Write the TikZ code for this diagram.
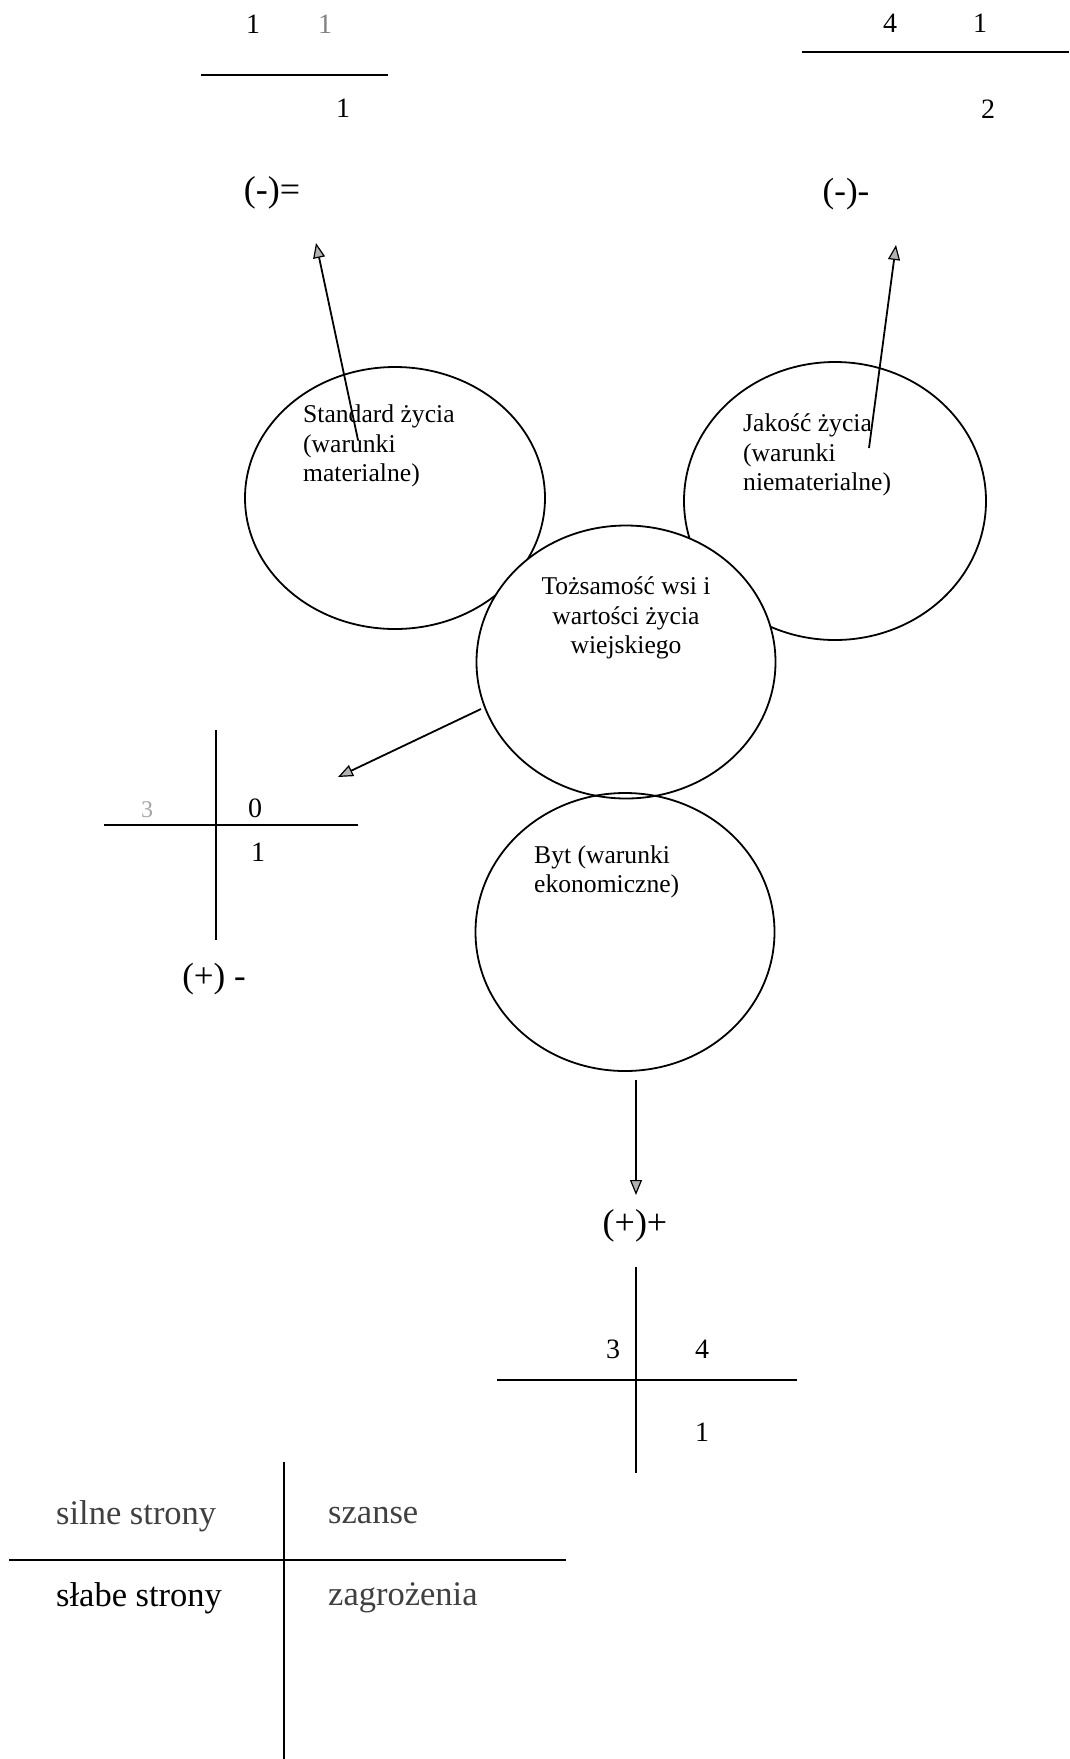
\documentclass[tikz,border=0pt]{standalone}
\usepackage{fontspec}
\setmainfont{Liberation Serif}
\usetikzlibrary{shapes.geometric,arrows.meta}
\begin{document}
\begin{tikzpicture}[x=1pt,y=-1pt,
  circ/.style={ellipse,draw,line width=1.8pt,inner sep=0pt},
  ln/.style={line width=2pt},
  arr/.style={line width=1.8pt,-{Triangle[length=15pt,width=12pt,fill=gray!60,line width=1.2pt]}},
  lbl/.style={inner sep=0pt,font=\fontsize{25.6}{29.5}\selectfont},
  num/.style={inner sep=0pt,font=\fontsize{28}{32}\selectfont},
  sgn/.style={inner sep=0pt,font=\fontsize{36}{40}\selectfont},
  swot/.style={inner sep=0pt,font=\fontsize{34.5}{38}\selectfont,anchor=west}]
\useasboundingbox (0,0) rectangle (1069,1759);
\fill[white] (0,0) rectangle (1069,1759);

% top-left block
\coordinate (tlA) at (201,75);
\coordinate (tlB) at (388,75);
\draw[ln] (tlA) -- (tlB);
\node[num] (tl1) at (253,24) {1};
\node[num,text=gray] (tl2) at (325,24) {1};
\node[num] (tl3) at (343,108) {1};
\node[sgn] (tlS) at (272,193) {(-)=};

% top-right block
\coordinate (trA) at (802,52);
\coordinate (trB) at (1069,52);
\draw[ln] (trA) -- (trB);
\node[num] (tr4) at (890,23) {4};
\node[num] (tr1) at (980,23) {1};
\node[num] (tr2) at (988,109) {2};
\node[sgn,font=\fontsize{35}{40}\selectfont] (trS) at (846,194) {(-)-};

% circles
\node[circ,minimum width=300,minimum height=262] (std) at (395,498) {};
\node[circ,minimum width=302,minimum height=278] (jak) at (835,501) {};
\node[circ,fill=white,minimum width=299,minimum height=273] (toz) at (626,662) {};
\node[circ,minimum width=299,minimum height=278] (byt) at (625,932) {};

% circle texts
\node[lbl,anchor=west,align=left] (stdT) at (303,446) {Standard życia\\(warunki\\materialne)};
\node[lbl,anchor=west,align=left] (jakT) at (743,455) {Jakość życia\\(warunki\\niematerialne)};
\node[lbl,align=center] (tozT) at (626,618) {Tożsamość wsi i\\wartości życia\\wiejskiego};
\node[lbl,anchor=west,align=left] (bytT) at (534,872) {Byt (warunki\\ekonomiczne)};

% arrows
\coordinate (a1s) at (358,440);
\coordinate (a1e) at (316,243);
\draw[arr] (a1s) -- (a1e);
\coordinate (a2s) at (869,448);
\coordinate (a2e) at (896,245);
\draw[arr] (a2s) -- (a2e);
\coordinate (a3s) at (481,709);
\coordinate (a3e) at (338,777);
\draw[arr] (a3s) -- (a3e);
\coordinate (a4s) at (636,1080);
\coordinate (a4e) at (636,1195);
\draw[arr] (a4s) -- (a4e);

% left cross
\coordinate (lcT) at (216,730);
\coordinate (lcB) at (216,940);
\coordinate (lcL) at (104,825);
\coordinate (lcR) at (358,825);
\draw[ln] (lcT) -- (lcB);
\draw[ln] (lcL) -- (lcR);
\node[num,text=gray!70,font=\fontsize{24}{28}\selectfont] (lc3) at (147,810) {3};
\node[num] (lc0) at (255,808) {0};
\node[num] (lc1) at (258,852) {1};
\node[sgn,font=\fontsize{35}{40}\selectfont] (lcS) at (214,979) {(+) -};

% bottom cross
\node[sgn] (bcS) at (635,1226) {(+)+};
\coordinate (bcT) at (636,1267);
\coordinate (bcB) at (636,1473);
\coordinate (bcL) at (497,1380);
\coordinate (bcR) at (797,1380);
\draw[ln] (bcT) -- (bcB);
\draw[ln] (bcL) -- (bcR);
\node[num] (bc3) at (613,1349) {3};
\node[num] (bc4) at (702,1349) {4};
\node[num] (bc1) at (702,1432) {1};

% SWOT
\coordinate (swT) at (284,1462);
\coordinate (swB) at (284,1759);
\coordinate (swL) at (9,1560);
\coordinate (swR) at (566,1560);
\draw[ln] (swT) -- (swB);
\draw[ln] (swL) -- (swR);
\node[swot,text=black!75] (sw1) at (56,1516) {silne strony};
\node[swot,text=black!75] (sw2) at (328,1516) {szanse};
\node[swot] (sw3) at (56,1598) {słabe strony};
\node[swot,text=black!75] (sw4) at (328,1598) {zagrożenia};
\end{tikzpicture}
\end{document}
